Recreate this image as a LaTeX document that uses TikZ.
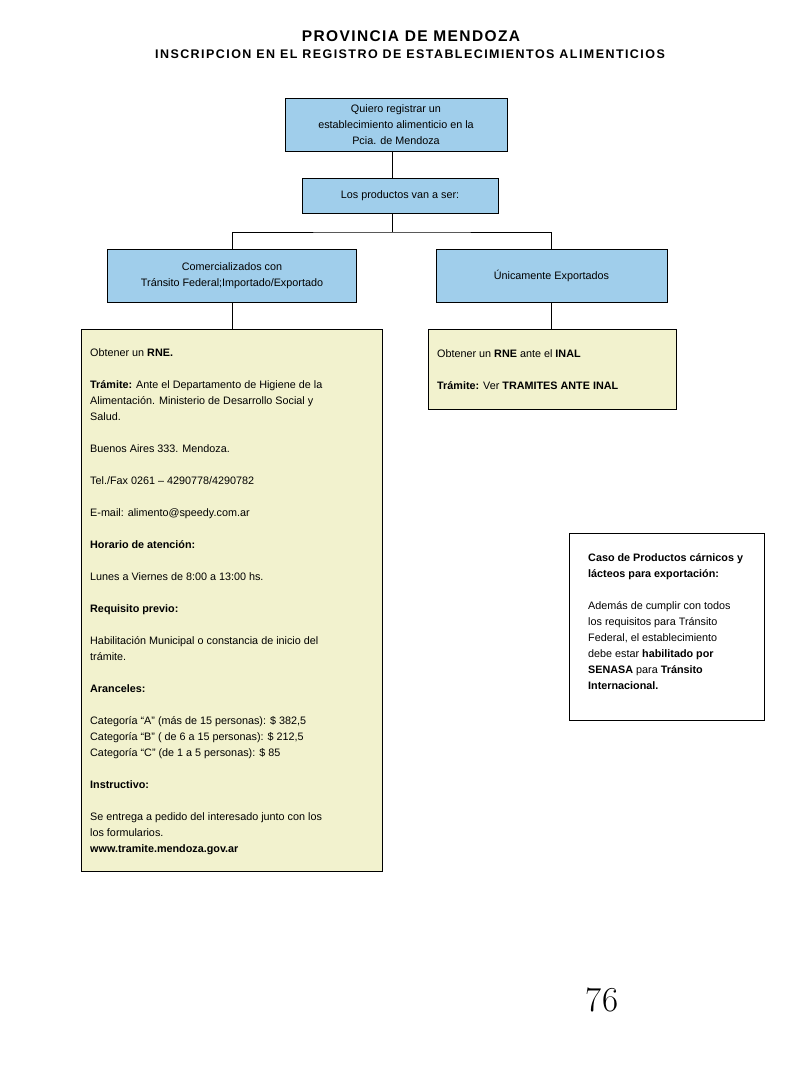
\documentclass[tikz,border=0pt]{standalone}
\usepackage{fontspec}
\setmainfont{Liberation Sans}
\newfontfamily\numfont{Latin Modern Roman}
\definecolor{boxblue}{RGB}{160,206,235}
\definecolor{boxyellow}{RGB}{242,242,206}
\tikzset{
  bluebox/.style={draw=black, fill=boxblue, line width=0.8pt, inner sep=0pt, align=center, font=\fontsize{10.8}{16}\selectfont},
  yelbox/.style={draw=black, fill=boxyellow, line width=0.8pt, inner sep=0pt},
  whitebox/.style={draw=black, fill=white, line width=0.8pt, inner sep=0pt},
  bodytext/.style={anchor=north west, inner sep=0pt, align=left, font=\fontsize{10.8}{16}\selectfont},
  conn/.style={draw=black, line width=0.8pt}
}
\begin{document}
\begin{tikzpicture}[x=1pt,y=-1pt]
\useasboundingbox (0,0) rectangle (800,1066);
% titles
\node[font=\bfseries\fontsize{15.5}{17}\selectfont\addfontfeature{LetterSpace=9}] (title) at (411,36) {PROVINCIA DE MENDOZA};
\node[font=\bfseries\fontsize{12.5}{14}\selectfont\addfontfeature{LetterSpace=11.5}] (subtitle) at (410,54) {INSCRIPCION EN EL REGISTRO DE ESTABLECIMIENTOS ALIMENTICIOS};
% blue boxes
\node[bluebox, minimum width=222pt, minimum height=53pt] (top) at (396,124.5) {Quiero registrar un\\establecimiento alimenticio en la\\Pcia. de Mendoza};
\node[bluebox, minimum width=196pt, minimum height=35pt] (prod) at (400,195.5) {Los productos van a ser:};
\node[bluebox, minimum width=249pt, minimum height=53pt] (com) at (232,276) {Comercializados con\\Tránsito Federal;Importado/Exportado};
\node[bluebox, minimum width=231pt, minimum height=53pt] (exp) at (551.5,276) {Únicamente Exportados};
% yellow boxes
\node[yelbox, minimum width=301pt, minimum height=542pt] (ly) at (231.5,600) {};
\node[yelbox, minimum width=248pt, minimum height=80pt] (ry) at (552,369) {};
% white box
\node[whitebox, minimum width=195pt, minimum height=187pt] (caso) at (666.5,626.5) {};
% connectors
\coordinate (sp) at (392,232);
\draw[conn] (top.south -| sp) -- (prod.north -| sp);
\draw[conn] (prod.south -| sp) -- (sp);
\draw[conn] (com.north) |- (sp) -| (exp.north);
\draw[conn] (com.south) -- (ly.north -| com.south);
\draw[conn] (exp.south) -- (ry.north -| exp.south);
% left box text
\node[bodytext] (lt) at (90,348) {Obtener un \textbf{RNE.}\\[16pt]
\textbf{Trámite:} Ante el Departamento de Higiene de la\\
Alimentación. Ministerio de Desarrollo Social y\\
Salud.\\[16pt]
Buenos Aires 333. Mendoza.\\[16pt]
Tel./Fax 0261 – 4290778/4290782\\[16pt]
E-mail: alimento@speedy.com.ar\\[16pt]
\textbf{Horario de atención:}\\[16pt]
Lunes a Viernes de 8:00 a 13:00 hs.\\[16pt]
\textbf{Requisito previo:}\\[16pt]
Habilitación Municipal o constancia de inicio del\\
trámite.\\[16pt]
\textbf{Aranceles:}\\[16pt]
Categoría “A” (más de 15 personas): \$ 382,5\\
Categoría “B” ( de 6 a 15 personas): \$ 212,5\\
Categoría “C” (de 1 a 5 personas): \$ 85\\[16pt]
\textbf{Instructivo:}\\[16pt]
Se entrega a pedido del interesado junto con los\\
los formularios.\\
\textbf{www.tramite.mendoza.gov.ar}};
% right box text
\node[bodytext] (rt) at (437,349) {Obtener un \textbf{RNE} ante el \textbf{INAL}\\[16pt]
\textbf{Trámite:} Ver \textbf{TRAMITES ANTE INAL}};
% caso text
\node[bodytext] (ct) at (588,553) {\textbf{Caso de Productos cárnicos y}\\
\textbf{lácteos para exportación:}\\[16pt]
Además de cumplir con todos\\
los requisitos para Tránsito\\
Federal, el establecimiento\\
debe estar \textbf{habilitado por}\\
\textbf{SENASA} para \textbf{Tránsito}\\
\textbf{Internacional.}};
% page number
\node[font=\numfont\fontsize{35}{37}\selectfont] (pg) at (602,1000) {76};
\end{tikzpicture}
\end{document}
